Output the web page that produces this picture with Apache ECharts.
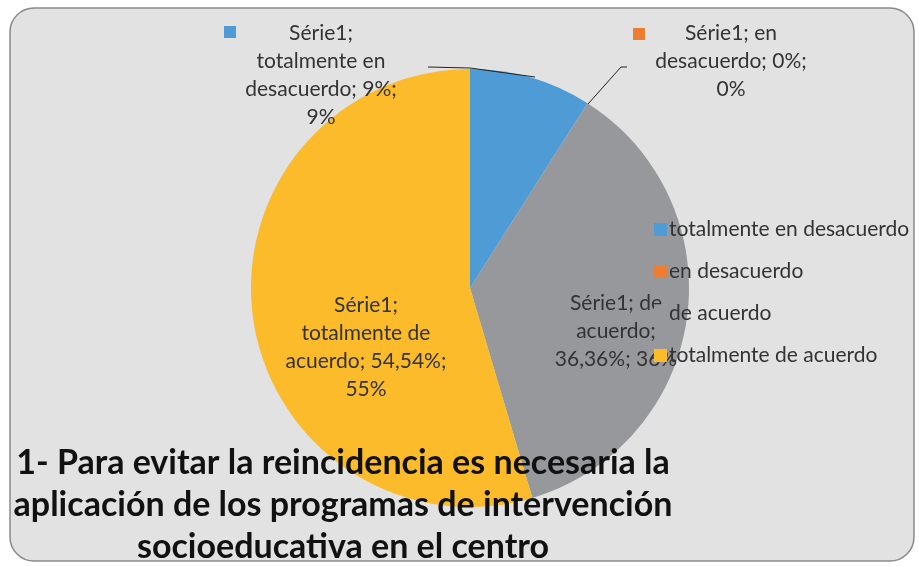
<!DOCTYPE html>
<html>
<head>
<meta charset="utf-8">
<script src="https://cdn.jsdelivr.net/npm/echarts@6/dist/echarts.min.js"></script>
<style>
    html, body { margin: 0; padding: 0; background: #fff; }
    #main { width: 919px; height: 566px; }
</style>
</head>
<body>
<div id="main"></div>
<script>
; (function () {
    const seriesName = 'Série1';
    const categories = ['totalmente en desacuerdo', 'en desacuerdo', 'de acuerdo', 'totalmente de acuerdo'];
    const values = [9, 0, 36.36, 54.54];
    const colors = ['#4f9bd6', '#ed7d31', '#96989b', '#fbbb2b'];
    const titleText = '1- Para evitar la reincidencia es necesaria la\naplicación de los programas de intervención\nsocioeducativa en el centro';

    const FONT = 'Lato';
    const LABEL_SIZE = 21;

    // 36.36 -> "36,36%"
    function fmtValue(v) {
        return String(v).replace('.', ',') + '%';
    }

    // word wrap like excel does it (only on spaces)
    const measureCtx = document.createElement('canvas').getContext('2d');
    function wrapText(txt, maxW) {
        measureCtx.font = LABEL_SIZE + 'px ' + FONT;
        const words = txt.split(' ');
        const lines = [];
        let cur = '';
        words.forEach(w => {
            const next = cur ? cur + ' ' + w : w;
            if (cur && measureCtx.measureText(next).width > maxW) {
                lines.push(cur);
                cur = w;
            } else {
                cur = next;
            }
        });
        if (cur) lines.push(cur);
        return lines.join('\n');
    }

    // where each label goes, as in the original (outside ones on top)
    const labelSpots = [
        { x: 321, y: 19, width: 160, marker: [224, 26], line: [[428, 67], [470, 68], [535, 77]] },
        { x: 731, y: 19, width: 160, marker: [633, 28], line: [[627, 67], [621, 67], [588, 104]] },
        { x: 616, y: 289, width: 135 },
        { x: 366, y: 291, width: 166 }
    ];

    const chartDom = document.getElementById('main');
    const myChart = echarts.init(chartDom);

    const data = categories.map((name, i) => {
        const spot = labelSpots[i];
        return {
            name: name,
            value: values[i],
            itemStyle: { color: colors[i] },
            label: {
                formatter: p => {
                    const txt = seriesName + '; ' + p.name + '; ' + fmtValue(p.value) + '; ' + Math.round(p.percent) + '%';
                    return wrapText(txt, spot.width);
                }
            }
        };
    });

    const graphics = [
        {
            type: 'rect',
            z: -10,
            shape: { x: 10, y: 8, width: 904, height: 553, r: 24 },
            style: { fill: '#e2e2e2', stroke: '#8a8a8a', lineWidth: 1.5 }
        },
        {
            type: 'text',
            z: 100,
            left: 13,
            top: 442,
            style: {
                text: titleText,
                font: 'bold 34px ' + FONT,
                fill: '#111',
                textAlign: 'center',
                lineHeight: 42,
                width: 660
            }
        }
    ];

    // legend squares in front of the outside labels + their leader lines
    labelSpots.forEach((spot, i) => {
        if (spot.marker) {
            graphics.push({
                type: 'rect',
                z: 50,
                shape: { x: 0, y: 0, width: 12, height: 12 },
                x: spot.marker[0],
                y: spot.marker[1],
                style: { fill: colors[i] }
            });
        }
        if (spot.line) {
            graphics.push({
                type: 'polyline',
                z: 60,
                shape: { points: spot.line },
                style: { stroke: '#222', lineWidth: 1, fill: null }
            });
        }
    });

    const option = {
        backgroundColor: '#ffffff',
        animation: false,
        graphic: graphics,
        legend: {
            orient: 'vertical',
            left: 649,
            top: 214,
            itemWidth: 13,
            itemHeight: 13,
            itemGap: 21,
            icon: 'rect',
            data: categories,
            textStyle: { fontFamily: FONT, fontSize: 21, color: '#333', padding: [0, 0, 0, -3] }
        },
        series: [
            {
                name: seriesName,
                type: 'pie',
                center: [470, 288],
                radius: 219,
                startAngle: 90,
                clockwise: true,
                minAngle: 0,
                avoidLabelOverlap: false,
                percentPrecision: 1,
                label: {
                    show: true,
                    position: 'inside',
                    fontFamily: FONT,
                    fontSize: LABEL_SIZE,
                    lineHeight: 28,
                    color: '#333',
                    align: 'center'
                },
                labelLine: { show: false },
                labelLayout: function (params) {
                    const spot = labelSpots[params.dataIndex];
                    return {
                        x: spot.x,
                        y: spot.y,
                        align: 'center',
                        verticalAlign: 'top'
                    };
                },
                data: data
            }
        ]
    };

    myChart.setOption(option);
})()
</script>
</body>
</html>
